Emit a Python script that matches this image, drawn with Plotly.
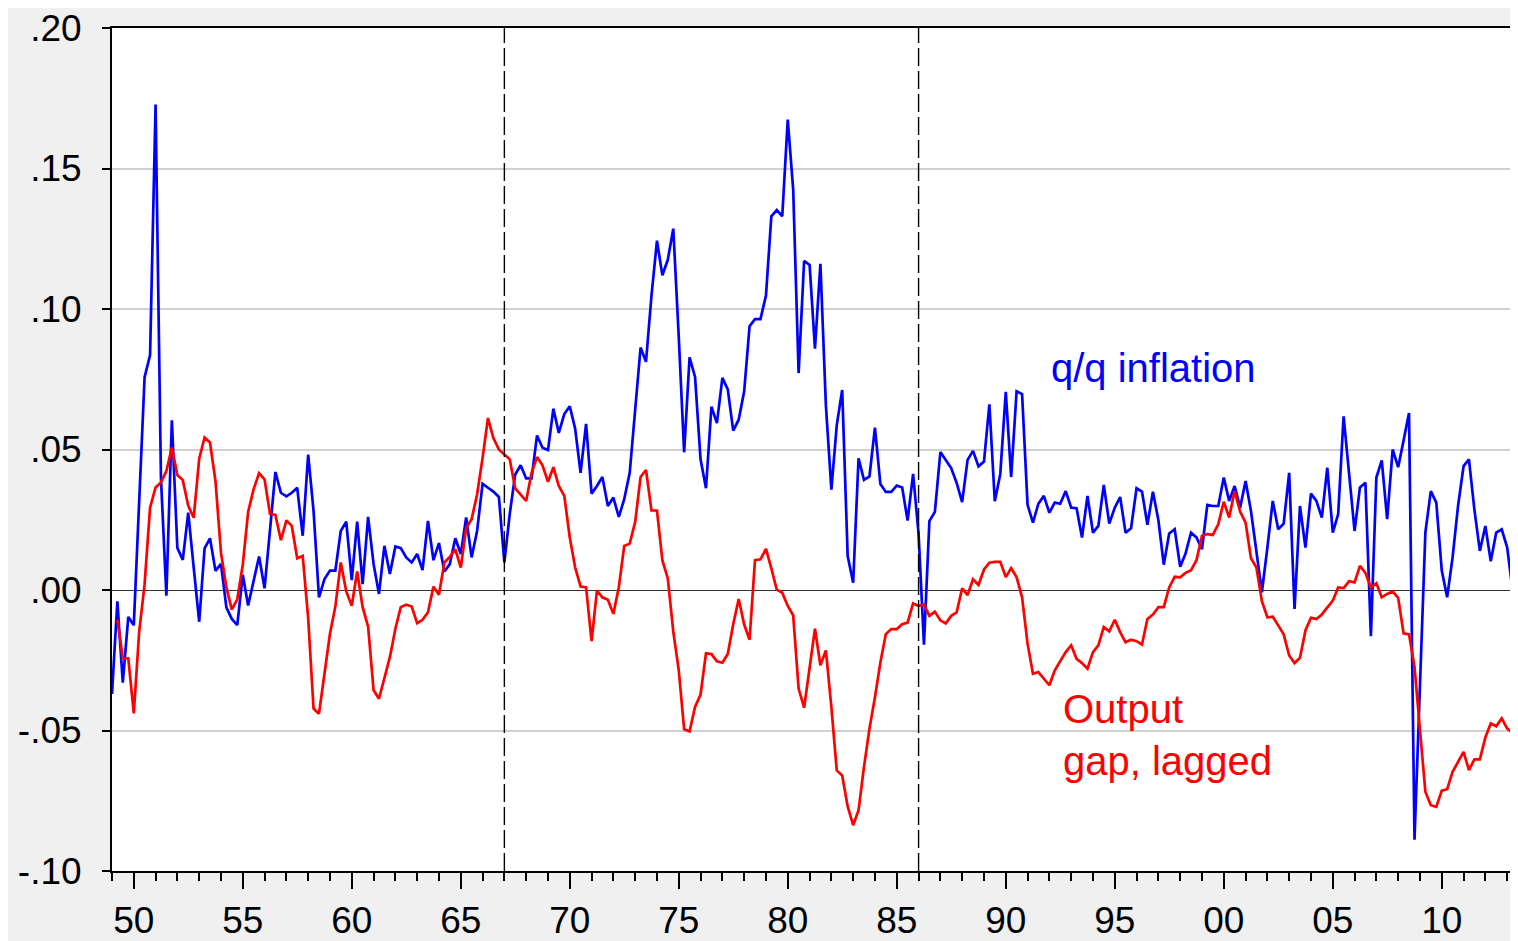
import pandas as pd
import plotly.graph_objects as go

# Quarterly observations starting 1949Q1
start_period = "1949-01-01"

inflation = [
    -0.037, -0.004, -0.033, -0.0096, -0.0125, 0.032, 0.0757, 0.0836, 0.1728, 0.04,
    -0.002, 0.0604, 0.015, 0.0107, 0.0275, 0.008, -0.0113, 0.0148, 0.0184, 0.0068,
    0.0093, -0.0062, -0.0103, -0.0125, 0.0054, -0.0055, 0.003, 0.0119, 0.0006, 0.022,
    0.042, 0.0346, 0.0333, 0.0346, 0.0364, 0.0193, 0.0482, 0.0281, -0.0026, 0.0039,
    0.0069, 0.0069, 0.021, 0.0243, 0.0035, 0.0243, 0.0021, 0.026, 0.0092, -0.0014,
    0.0157, 0.0057, 0.0155, 0.0149, 0.0116, 0.0098, 0.0128, 0.0071, 0.0246, 0.0106,
    0.0167, 0.0066, 0.0092, 0.0184, 0.0128, 0.0258, 0.0116, 0.021, 0.0378, 0.0364,
    0.035, 0.0331, 0.0098, 0.027, 0.0411, 0.0444, 0.0397, 0.0397, 0.055, 0.0506,
    0.0498, 0.0645, 0.0559, 0.0626, 0.0654, 0.0574, 0.0417, 0.0591, 0.0343, 0.037,
    0.0402, 0.0299, 0.0329, 0.026, 0.0323, 0.0417, 0.063, 0.0863, 0.0812, 0.1048,
    0.1243, 0.112, 0.1175, 0.1286, 0.09, 0.049, 0.0828, 0.0758, 0.0465, 0.0362,
    0.0652, 0.0594, 0.0755, 0.0714, 0.0567, 0.0606, 0.0707, 0.0939, 0.0964, 0.0964,
    0.1048, 0.133, 0.1352, 0.133, 0.1674, 0.1425, 0.0772, 0.1171, 0.1157, 0.0859,
    0.1161, 0.0657, 0.0357, 0.0587, 0.0712, 0.0121, 0.0026, 0.0469, 0.0392, 0.0404,
    0.0578, 0.0377, 0.0349, 0.0349, 0.0372, 0.0365, 0.0247, 0.0413, 0.02, -0.0195,
    0.0245, 0.0278, 0.0491, 0.0463, 0.0434, 0.0381, 0.0313, 0.0463, 0.0495, 0.044,
    0.0457, 0.0661, 0.0316, 0.0413, 0.0705, 0.0402, 0.0707, 0.0697, 0.0303, 0.024,
    0.0307, 0.0335, 0.0275, 0.0311, 0.0307, 0.0352, 0.0293, 0.0291, 0.0187, 0.0335,
    0.0204, 0.0228, 0.0374, 0.0236, 0.0293, 0.0331, 0.0204, 0.022, 0.0362, 0.035,
    0.0232, 0.035, 0.0248, 0.009, 0.0201, 0.0216, 0.0083, 0.013, 0.0204, 0.0187,
    0.0145, 0.0303, 0.0299, 0.0299, 0.04, 0.0317, 0.037, 0.0293, 0.0388, 0.0281,
    0.0139, -0.0008, 0.0151, 0.0317, 0.0216, 0.0236, 0.0417, -0.0067, 0.0299, 0.0151,
    0.0343, 0.0317, 0.0258, 0.0435, 0.0204, 0.027, 0.0618, 0.0411, 0.021, 0.0365,
    0.0382, -0.0164, 0.04, 0.0461, 0.0252, 0.05, 0.0437, 0.0532, 0.063, -0.0889,
    -0.035, 0.0204, 0.0352, 0.0311, 0.0069, -0.0026, 0.0116, 0.03, 0.0441, 0.0465,
    0.0287, 0.0139, 0.0228, 0.0102, 0.0204, 0.0216, 0.0151, -0.0002, 0.0264,
]

output_gap_lagged = [
    None,
    -0.0106, -0.0243, -0.0243, -0.0439, -0.015, 0.002, 0.0293, 0.0365, 0.0383, 0.0423,
    0.0507, 0.0409, 0.0391, 0.03, 0.0257, 0.0467, 0.0543, 0.0525, 0.0387, 0.0133,
    0.001, -0.007, -0.0033, 0.009, 0.0278, 0.0358, 0.0416, 0.0394, 0.0271, 0.0267,
    0.0177, 0.0248, 0.0228, 0.0113, 0.0121, -0.01, -0.0422, -0.044, -0.0298, -0.0156,
    -0.0059, 0.0098, -0.0005, -0.0056, 0.0066, -0.0061, -0.013, -0.0357, -0.0387, -0.031,
    -0.0239, -0.0138, -0.0061, -0.0052, -0.0059, -0.0118, -0.0106, -0.0079, 0.0012, -0.0017,
    0.0098, 0.0118, 0.0145, 0.008, 0.022, 0.0252, 0.034, 0.047, 0.0612, 0.0541,
    0.05, 0.0482, 0.0465, 0.0362, 0.034, 0.0317, 0.0417, 0.0473, 0.0444, 0.0385,
    0.0437, 0.037, 0.0335, 0.0187, 0.008, 0.0012, 0.0009, -0.0182, -0.0002, -0.0026,
    -0.0035, -0.0085, 0.0009, 0.0157, 0.0165, 0.0243, 0.0402, 0.0427, 0.0283, 0.0283,
    0.0106, 0.0041, -0.0148, -0.0286, -0.0496, -0.0503, -0.0416, -0.0372, -0.0225, -0.0228,
    -0.0254, -0.0259, -0.0228, -0.0123, -0.0032, -0.0123, -0.0177, 0.0106, 0.0109, 0.0146,
    0.0077, 0.0001, -0.001, -0.0057, -0.009, -0.0351, -0.0419, -0.0283, -0.0138, -0.0268,
    -0.0215, -0.0417, -0.0642, -0.066, -0.077, -0.0837, -0.0784, -0.063, -0.0494, -0.0382,
    -0.0258, -0.0157, -0.0139, -0.0139, -0.0122, -0.0116, -0.0048, -0.0057, -0.0051, -0.0092,
    -0.0077, -0.0108, -0.0119, -0.0092, -0.008, 0.0006, -0.0018, 0.0038, 0.0018, 0.0073,
    0.0097, 0.01, 0.01, 0.0046, 0.0078, 0.0045, -0.0026, -0.0191, -0.0298, -0.0292,
    -0.0316, -0.0339, -0.0286, -0.0251, -0.0221, -0.0197, -0.0245, -0.026, -0.028, -0.0221,
    -0.0197, -0.0132, -0.0147, -0.0106, -0.015, -0.0186, -0.0177, -0.0182, -0.0194, -0.0103,
    -0.0087, -0.0061, -0.0061, 0.0009, 0.0047, 0.0045, 0.0061, 0.007, 0.0106, 0.0193,
    0.0199, 0.0196, 0.0234, 0.0314, 0.0258, 0.0352, 0.0279, 0.024, 0.0113, 0.008,
    -0.004, -0.0097, -0.0095, -0.0126, -0.0158, -0.0233, -0.026, -0.0241, -0.0144, -0.0099,
    -0.0103, -0.0087, -0.0061, -0.0038, 0.0009, 0.0007, 0.0031, 0.0027, 0.0086, 0.0061,
    0.0008, 0.0024, -0.0026, -0.0014, -0.0005, -0.0028, -0.0154, -0.0158, -0.0274, -0.051,
    -0.0718, -0.0766, -0.0772, -0.0714, -0.0709, -0.0647, -0.0611, -0.0576, -0.0641, -0.0603,
    -0.0603, -0.0525, -0.0475, -0.0485, -0.0457, -0.0493, -0.0508, -0.0481,
]

y_tickvals = [-0.10, -0.05, 0.0, 0.05, 0.10, 0.15, 0.20]
y_ticktext = ["-.10", "-.05", ".00", ".05", ".10", ".15", ".20"]
break_dates = ["1967-01-01", "1986-01-01"]

dates = pd.date_range(start_period, periods=len(inflation), freq="QS")

FONT = "Arial, Liberation Sans, sans-serif"

fig = go.Figure()
fig.add_trace(go.Scatter(x=dates, y=inflation, mode="lines",
                         line=dict(color="#0000FF", width=2.7),
                         name="q/q inflation", showlegend=False))
fig.add_trace(go.Scatter(x=dates, y=output_gap_lagged, mode="lines",
                         line=dict(color="#FF0000", width=2.7),
                         name="Output gap, lagged", showlegend=False))

for d in break_dates:
    fig.add_shape(type="line", xref="x", yref="paper", x0=d, x1=d, y0=0, y1=1,
                  line=dict(color="black", width=1.4, dash="18px,5px"))

fig.add_annotation(x="1991-12-20", y=0.079, xref="x", yref="y",
                   text="q/q inflation", showarrow=False, xanchor="left",
                   yanchor="middle", font=dict(family=FONT, size=40, color="#0000FF"))
fig.add_annotation(x="1992-07-20", y=-0.0515, xref="x", yref="y",
                   text="Output<br>gap, lagged", showarrow=False, xanchor="left",
                   yanchor="middle", align="left",
                   font=dict(family=FONT, size=40, color="#FF0000"))

# page body has an 8px default margin; compensate so the plot lands where the reference has it
fig.update_layout(
    width=1510, height=933,
    margin=dict(l=104, r=0, t=20, b=66),
    paper_bgcolor="#F0F0F0", plot_bgcolor="white",
    font=dict(family=FONT, size=37, color="black"),
    showlegend=False,
)
fig.update_xaxes(
    type="date", range=["1949-01-01", "2013-07-01"],
    tick0="1950-01-01", dtick="M60", tickformat="%y",
    ticks="outside", ticklen=16, tickwidth=1.5, tickcolor="black",
    showline=True, linecolor="black", linewidth=2, mirror=True,
    showgrid=False, zeroline=False,
    minor=dict(ticks="outside", ticklen=8, tickwidth=1.5, tickcolor="black",
               dtick="M12", tick0="1949-01-01", showgrid=False),
    tickfont=dict(family=FONT, size=37, color="black"),
    ticklabeloverflow="allow",
)
fig.update_yaxes(
    range=[-0.10, 0.20], tickvals=y_tickvals, ticktext=y_ticktext,
    ticks="outside", ticklen=8, tickwidth=1.5, tickcolor="black",
    showline=True, linecolor="black", linewidth=2,
    showgrid=True, gridcolor="#D0D0D0", gridwidth=1.6,
    zeroline=True, zerolinecolor="#333333", zerolinewidth=1.2,
    ticklabelstandoff=13, ticklabeloverflow="allow",
    tickfont=dict(family=FONT, size=37, color="black"),
)

fig.write_html("out.html")
